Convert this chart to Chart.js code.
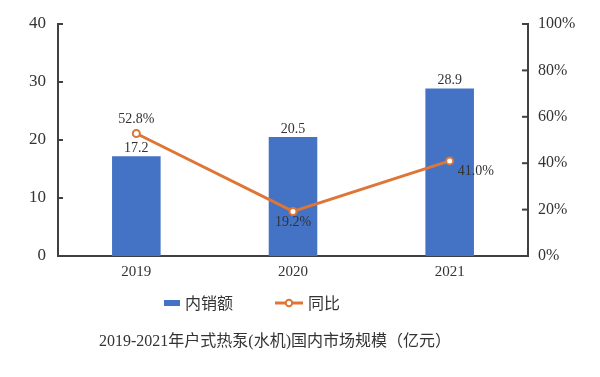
<!DOCTYPE html>
<html>
<head>
<meta charset="utf-8">
<script src="https://cdn.jsdelivr.net/npm/chart.js@4/dist/chart.umd.min.js"></script>
<style>
  html, body { margin: 0; padding: 0; background: #fff; }
  #wrap { width: 600px; height: 377px; position: relative; }
</style>
</head>
<body>
<div id="wrap"><canvas id="chart" width="600" height="377"></canvas></div>
<script>
// Data
const years = ["2019", "2020", "2021"];
const sales = [17.2, 20.5, 28.9];      // 内销额 (亿元)
const growth = [52.8, 19.2, 41.0];     // 同比 (%)
const leftTicks = [0, 10, 20, 30, 40];
const rightTicks = [0, 20, 40, 60, 80, 100];
const seriesNames = ["内销额", "同比"];
const titleText = "2019-2021年户式热泵(水机)国内市场规模（亿元）";

const BLUE = "#4472C4";
const ORANGE = "#DD7636";
const AXIS = "#404040";
const TEXT = "#333";
const SERIF = "'Liberation Serif', 'Times New Roman', serif";
const CJK = "'Noto Sans CJK SC', sans-serif";

// inward tick marks on both y axes
const innerTicks = {
  id: "innerTicks",
  afterDraw(chart) {
    const ctx = chart.ctx;
    const area = chart.chartArea;
    ctx.save();
    ctx.strokeStyle = AXIS;
    ctx.lineWidth = 2;
    const yl = chart.scales.y;
    leftTicks.forEach((v) => {
      const p = yl.getPixelForValue(v);
      ctx.beginPath(); ctx.moveTo(area.left, p); ctx.lineTo(area.left + 5, p); ctx.stroke();
    });
    const yr = chart.scales.y1;
    rightTicks.forEach((v) => {
      const p = yr.getPixelForValue(v);
      ctx.beginPath(); ctx.moveTo(area.right, p); ctx.lineTo(area.right - 6, p); ctx.stroke();
    });
    ctx.restore();
  },
};

// value labels
const valueLabels = {
  id: "valueLabels",
  afterDatasetsDraw(chart) {
    const ctx = chart.ctx;
    ctx.save();
    ctx.font = "14px " + SERIF;
    ctx.fillStyle = TEXT;
    ctx.textAlign = "center";
    ctx.textBaseline = "bottom";
    chart.getDatasetMeta(0).data.forEach((bar, i) => {
      ctx.fillText(sales[i].toFixed(1), bar.x, bar.y - 1);
    });
    const pts = chart.getDatasetMeta(1).data;
    // 2019 above, 2020 below, 2021 right
    ctx.fillText(growth[0].toFixed(1) + "%", pts[0].x, pts[0].y - 7);
    ctx.textBaseline = "top";
    ctx.fillText(growth[1].toFixed(1) + "%", pts[1].x, pts[1].y + 4);
    ctx.textAlign = "left";
    ctx.textBaseline = "middle";
    ctx.fillText(growth[2].toFixed(1) + "%", pts[2].x + 8, pts[2].y + 10);
    ctx.restore();
  },
};

// legend + caption below the chart
const bottomText = {
  id: "bottomText",
  afterDraw(chart) {
    const ctx = chart.ctx;
    const ly = 303;
    ctx.save();
    // bar sample
    ctx.fillStyle = BLUE;
    ctx.fillRect(164, ly - 3, 16, 6);
    // line sample
    ctx.strokeStyle = ORANGE;
    ctx.lineWidth = 3;
    ctx.beginPath(); ctx.moveTo(275, ly); ctx.lineTo(303, ly); ctx.stroke();
    ctx.fillStyle = "#fff";
    ctx.lineWidth = 2;
    ctx.beginPath(); ctx.arc(289, ly, 3.2, 0, Math.PI * 2); ctx.fill(); ctx.stroke();
    ctx.font = "16px " + CJK;
    ctx.fillStyle = TEXT;
    ctx.textAlign = "left";
    ctx.textBaseline = "middle";
    ctx.fillText(seriesNames[0], 185, ly);
    ctx.fillText(seriesNames[1], 308, ly);
    // caption
    ctx.font = "16px 'Liberation Serif', 'Noto Sans CJK SC', serif";
    ctx.fillText(titleText, 99, 342);
    ctx.restore();
  },
};

new Chart(document.getElementById("chart"), {
  data: {
    labels: years,
    datasets: [
      {
        type: "bar",
        label: seriesNames[0],
        data: sales,
        backgroundColor: BLUE,
        yAxisID: "y",
        barPercentage: 0.62,
        categoryPercentage: 0.5,
        order: 2,
      },
      {
        type: "line",
        label: seriesNames[1],
        data: growth,
        borderColor: ORANGE,
        borderWidth: 3,
        pointRadius: 3.5,
        pointBorderWidth: 2,
        pointBackgroundColor: "#fff",
        pointBorderColor: ORANGE,
        yAxisID: "y1",
        order: 1,
      },
    ],
  },
  options: {
    responsive: false,
    animation: false,
    layout: { padding: { top: 24, left: 0, right: 0, bottom: 91 } },
    plugins: {
      tooltip: { enabled: false },
      legend: { display: false },
      title: { display: false },
    },
    scales: {
      x: {
        grid: { display: false, drawTicks: false },
        border: { color: AXIS, width: 2 },
        ticks: { color: TEXT, font: { family: SERIF, size: 15 }, padding: 7 },
        afterFit(scale) { scale.height = 30; },
      },
      y: {
        position: "left",
        min: 0,
        max: 40,
        afterBuildTicks(scale) { scale.ticks = leftTicks.map((v) => ({ value: v })); },
        grid: { display: false, drawTicks: false },
        border: { color: AXIS, width: 2 },
        ticks: { color: TEXT, font: { family: SERIF, size: 17 }, padding: 12 },
        afterFit(scale) { scale.width = 58; },
      },
      y1: {
        position: "right",
        min: 0,
        max: 100,
        afterBuildTicks(scale) { scale.ticks = rightTicks.map((v) => ({ value: v })); },
        grid: { display: false, drawTicks: false },
        border: { color: AXIS, width: 2 },
        ticks: {
          color: TEXT,
          font: { family: SERIF, size: 16 },
          padding: 10,
          callback: (v) => v + "%",
        },
        afterFit(scale) { scale.width = 72; },
      },
    },
  },
  plugins: [innerTicks, valueLabels, bottomText],
});
</script>
</body>
</html>
